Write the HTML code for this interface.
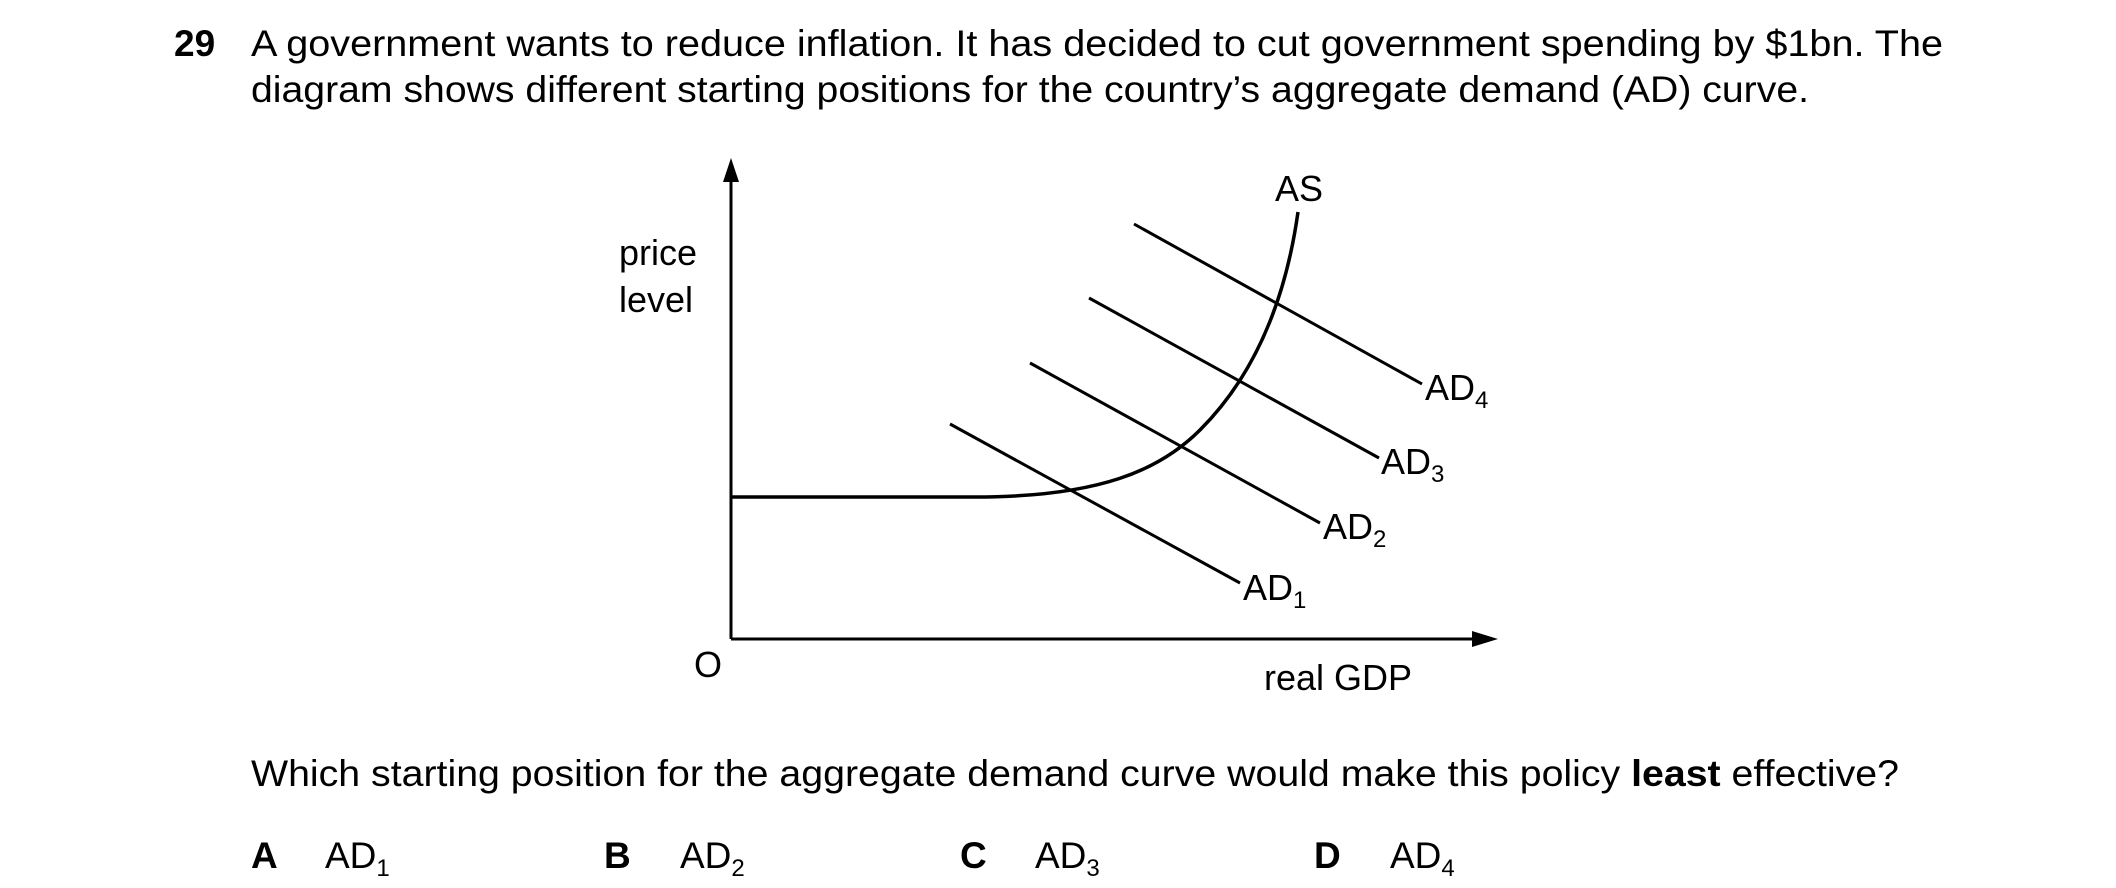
<!DOCTYPE html>
<html><head><meta charset="utf-8"><style>html,body{margin:0;padding:0;background:#fff}svg{display:block}</style></head>
<body>
<svg width="2116" height="888" viewBox="0 0 2116 888" xmlns="http://www.w3.org/2000/svg" font-family="Liberation Sans, Arial, sans-serif" fill="#000">
<text x="174" y="56" font-size="37" font-weight="bold">29</text>
<text x="251" y="56" font-size="37" textLength="1692" lengthAdjust="spacingAndGlyphs">A government wants to reduce inflation. It has decided to cut government spending by $1bn. The</text>
<text x="251" y="102" font-size="37" textLength="1558" lengthAdjust="spacingAndGlyphs">diagram shows different starting positions for the country’s aggregate demand (AD) curve.</text>

<g stroke="#000" fill="none" stroke-width="3">
<line x1="731" y1="175" x2="731" y2="639"/>
<line x1="731" y1="639" x2="1475" y2="639"/>
<path d="M731 497 L975 497 C1100 497 1160 470 1200 430 C1260 370 1287 290 1298 212" stroke-width="3.5"/>
<line x1="950" y1="424" x2="1240" y2="583"/>
<line x1="1030" y1="363" x2="1320" y2="523"/>
<line x1="1089" y1="298" x2="1379" y2="458"/>
<line x1="1134" y1="224" x2="1422" y2="384"/>
</g>
<polygon points="731,158 723,182 739,182"/>
<polygon points="1498,639 1472,631 1472,647"/>

<g font-size="36">
<text x="1299" y="201" text-anchor="middle">AS</text>
<text x="619" y="265">price</text>
<text x="619" y="312">level</text>
<text x="694" y="677">O</text>
<text x="1264" y="690">real GDP</text>
<text x="1243" y="600">AD<tspan font-size="24" dy="8">1</tspan></text>
<text x="1323" y="539">AD<tspan font-size="24" dy="8">2</tspan></text>
<text x="1381" y="474">AD<tspan font-size="24" dy="8">3</tspan></text>
<text x="1425" y="400">AD<tspan font-size="24" dy="8">4</tspan></text>
</g>
<g font-size="37">
<text x="251" y="786" textLength="1648" lengthAdjust="spacingAndGlyphs">Which starting position for the aggregate demand curve would make this policy <tspan font-weight="bold">least</tspan> effective?</text>

<text x="251" y="868" font-weight="bold">A</text>
<text x="325" y="868">AD<tspan font-size="24" dy="8">1</tspan></text>
<text x="604" y="868" font-weight="bold">B</text>
<text x="680" y="868">AD<tspan font-size="24" dy="8">2</tspan></text>
<text x="960" y="868" font-weight="bold">C</text>
<text x="1035" y="868">AD<tspan font-size="24" dy="8">3</tspan></text>
<text x="1314" y="868" font-weight="bold">D</text>
<text x="1390" y="868">AD<tspan font-size="24" dy="8">4</tspan></text>
</g>
</svg>
</body></html>
